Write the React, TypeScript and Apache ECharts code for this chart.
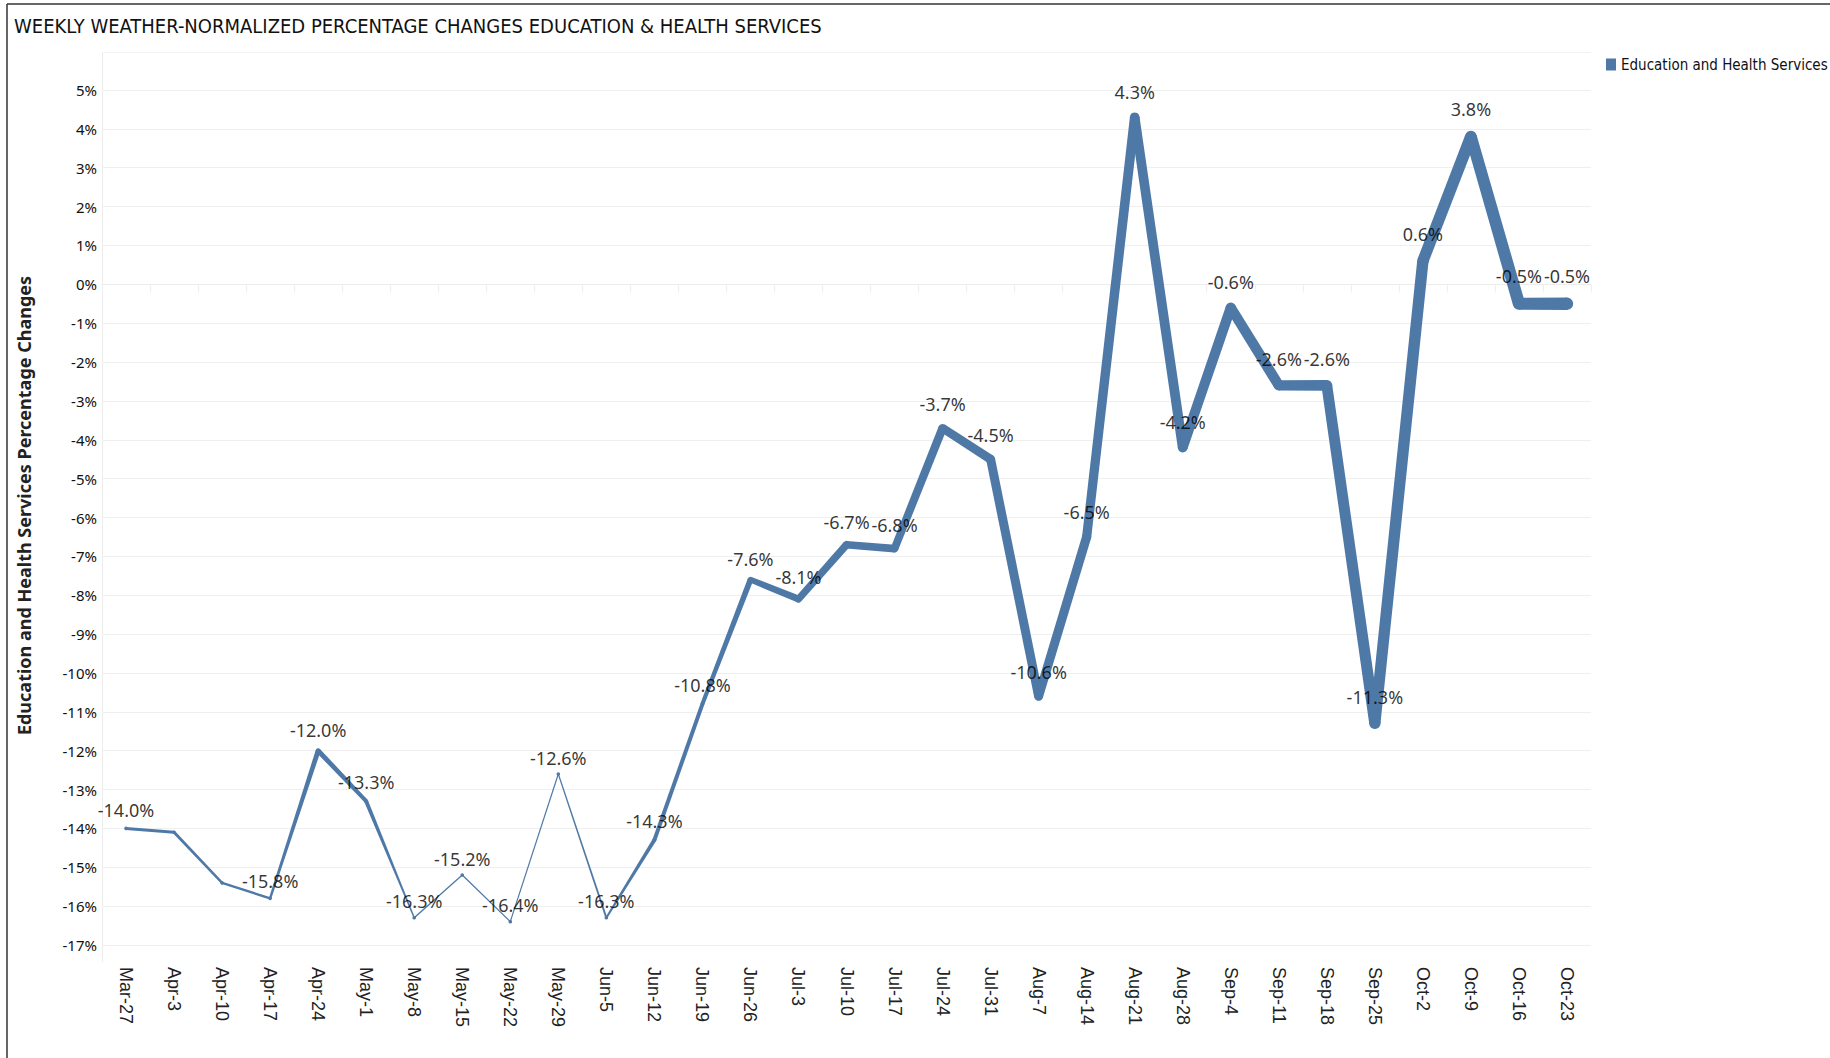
import React, { useEffect, useRef } from "react";
import * as echarts from "echarts";

const TITLE = "WEEKLY WEATHER-NORMALIZED PERCENTAGE CHANGES EDUCATION & HEALTH SERVICES";
const SERIES_NAME = "Education and Health Services";
const Y_AXIS_NAME = "Education and Health Services Percentage Changes";

const categories = [
  "Mar-27", "Apr-3", "Apr-10", "Apr-17", "Apr-24", "May-1", "May-8", "May-15",
  "May-22", "May-29", "Jun-5", "Jun-12", "Jun-19", "Jun-26", "Jul-3", "Jul-10",
  "Jul-17", "Jul-24", "Jul-31", "Aug-7", "Aug-14", "Aug-21", "Aug-28", "Sep-4",
  "Sep-11", "Sep-18", "Sep-25", "Oct-2", "Oct-9", "Oct-16", "Oct-23",
];

const values = [
  -14.0, -14.1, -15.4, -15.8, -12.0, -13.3, -16.3, -15.2,
  -16.4, -12.6, -16.3, -14.3, -10.8, -7.6, -8.1, -6.7,
  -6.8, -3.7, -4.5, -10.6, -6.5, 4.3, -4.2, -0.6,
  -2.6, -2.6, -11.3, 0.6, 3.8, -0.5, -0.5,
];

// size measure encoded as line thickness
const sizes = [
  3, 3, 2.4, 2.4, 5, 4, 1.4, 1.3,
  1.2, 1.2, 2, 4, 4, 5.8, 7, 7.6,
  7.8, 8.4, 9, 9, 9.2, 9.6, 9.8, 10.2,
  10.4, 10.8, 11.2, 11.4, 11.8, 12.2, 12.4,
];

const labelShown = [
  true, false, false, true, true, true, true, true,
  true, true, true, true, true, true, true, true,
  true, true, true, true, true, true, true, true,
  true, true, true, true, true, true, true,
];

const COLOR = "#4e79a7";
const NARROW = '"Liberation Sans Narrow", "Arial Narrow", "DejaVu Sans Condensed", sans-serif';
const BOOK = '"Liberation Sans", Arial, sans-serif';

export default function App() {
  const ref = useRef<HTMLDivElement>(null);

  useEffect(() => {
    document.body.style.margin = "0";
    if (!ref.current) return;
    const chart = echarts.init(ref.current, undefined, { renderer: "svg" });

    const renderItem = (params: any, api: any) => {
      const i = params.dataIndex;
      const p0 = api.coord([i, values[i]]);
      const children: any[] = [];
      if (i < values.length - 1) {
        const p1 = api.coord([i + 1, values[i + 1]]);
        const w0 = sizes[i] / 2;
        const w1 = sizes[i + 1] / 2;
        const dx = p1[0] - p0[0];
        const dy = p1[1] - p0[1];
        const len = Math.hypot(dx, dy) || 1;
        const nx = -dy / len;
        const ny = dx / len;
        children.push({
          type: "polygon",
          shape: {
            points: [
              [p0[0] + nx * w0, p0[1] + ny * w0],
              [p1[0] + nx * w1, p1[1] + ny * w1],
              [p1[0] - nx * w1, p1[1] - ny * w1],
              [p0[0] - nx * w0, p0[1] - ny * w0],
            ],
          },
          style: { fill: COLOR },
        });
      }
      children.push({
        type: "circle",
        shape: { cx: p0[0], cy: p0[1], r: Math.max(sizes[i] / 2, 1.8) },
        style: { fill: COLOR },
      });
      return { type: "group", children };
    };

    const option: any = {
      animation: false,
      backgroundColor: "#ffffff",
      title: {
        text: TITLE,
        left: 9,
        top: 11,
        textStyle: { fontFamily: NARROW, fontSize: 20, fontWeight: "normal", color: "#111" },
      },
      legend: {
        data: [{ name: SERIES_NAME, icon: "rect" }],
        left: 1601,
        top: 52,
        itemWidth: 10,
        itemHeight: 12,
        itemGap: 6,
        textStyle: { fontFamily: NARROW, fontSize: 15, color: "#111" },
      },
      grid: { left: 102, right: 239, top: 90, bottom: 113, containLabel: false },
      xAxis: {
        type: "category",
        data: categories,
        boundaryGap: true,
        offset: 17,
        axisLine: { show: true, lineStyle: { color: "#ececec", width: 1 } },
        axisTick: { show: true, alignWithLabel: false, length: 8, lineStyle: { color: "#efefef" } },
        axisLabel: {
          rotate: -90,
          interval: 0,
          margin: 5,
          fontFamily: BOOK,
          fontSize: 18,
          color: "#222",
        },
        splitLine: { show: false },
      },
      yAxis: {
        type: "value",
        min: -17,
        max: 5,
        interval: 1,
        name: Y_AXIS_NAME,
        nameLocation: "middle",
        nameGap: 69,
        nameTextStyle: {
          fontFamily: '"Noto Sans", sans-serif',
          fontSize: 18,
          fontWeight: "bold",
          color: "#222",
          padding: [0, 0, 0, 24],
        },
        axisLine: { show: false },
        axisTick: { show: false },
        axisLabel: {
          margin: 5,
          fontFamily: '"Noto Sans", sans-serif',
          fontSize: 15,
          color: "#111",
          formatter: (v: number) => `${v}%`,
        },
        splitLine: { show: true, lineStyle: { color: "#efefef", width: 1 } },
      },
      graphic: [
        { type: "line", shape: { x1: 102.5, y1: 52, x2: 102.5, y2: 962 }, style: { stroke: "#ececec", lineWidth: 1 }, silent: true },
        { type: "line", shape: { x1: 102, y1: 52.5, x2: 1591, y2: 52.5 }, style: { stroke: "#f3f3f3", lineWidth: 1 }, silent: true },
        { type: "line", shape: { x1: 7, y1: 4, x2: 1830, y2: 4 }, style: { stroke: "#333", lineWidth: 1.5 }, silent: true },
        { type: "line", shape: { x1: 7, y1: 4, x2: 7, y2: 1058 }, style: { stroke: "#333", lineWidth: 1.5 }, silent: true },
      ],
      series: [
        {
          name: SERIES_NAME,
          type: "custom",
          renderItem,
          itemStyle: { color: COLOR },
          data: values.map((v, i) => [i, v]),
          z: 2,
        },
        {
          name: "labels",
          type: "scatter",
          symbol: "circle",
          symbolSize: 0.1,
          itemStyle: { color: "transparent" },
          z: 3,
          data: values.map((v, i) => ({
            value: [i, v],
            label: {
              show: labelShown[i],
              position: "top",
              distance: 6 + sizes[i] * 1.05,
              formatter: `${v.toFixed(1)}%`,
              fontFamily: '"Noto Sans", sans-serif',
              fontSize: 18,
              color: "#000",
            },
          })),
        },
      ],
    };

    chart.setOption(option);
    return () => chart.dispose();
  }, []);

  return <div ref={ref} style={{ width: 1830, height: 1058 }} />;
}
